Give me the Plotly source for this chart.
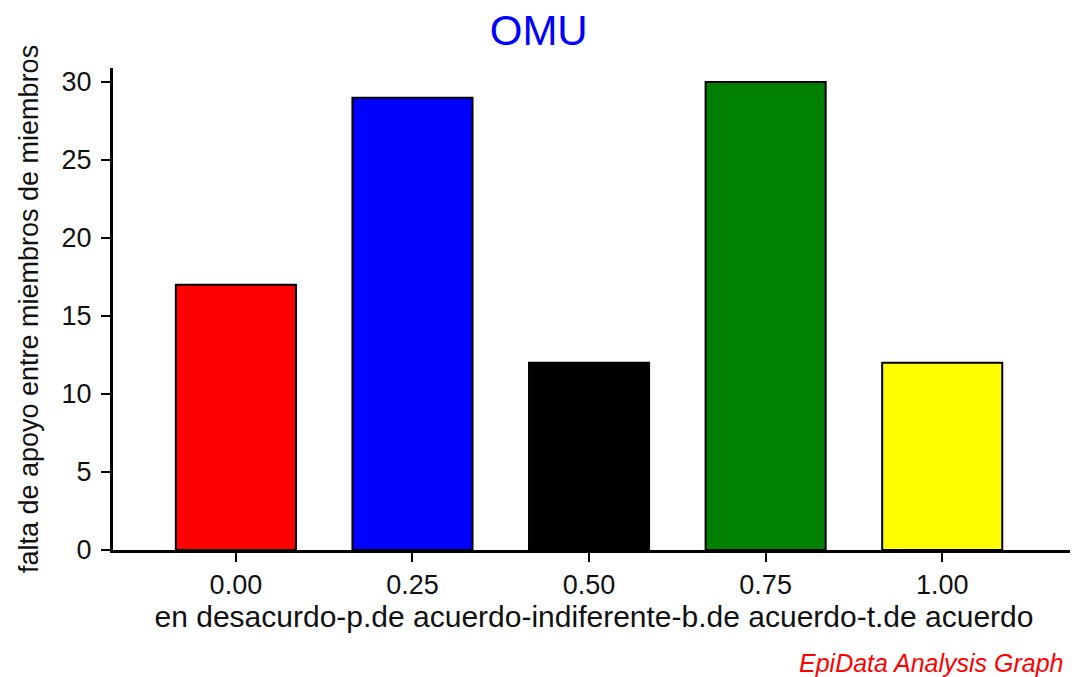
import plotly.graph_objects as go

categories = [0.00, 0.25, 0.50, 0.75, 1.00]
values = [17, 29, 12, 30, 12]
bar_colors = ["#ff0000", "#0000ff", "#000000", "#008000", "#ffff00"]
tick_text = ["0.00", "0.25", "0.50", "0.75", "1.00"]
y_ticks = [0, 5, 10, 15, 20, 25, 30]

FONT = "Arial, Liberation Sans, sans-serif"

fig = go.Figure(go.Bar(
    x=categories, y=values, width=0.17,
    marker=dict(color=bar_colors, line=dict(color="black", width=2)),
))

# The page body has an 8px default margin, so the figure is sized/positioned to compensate.
fig.update_layout(
    width=1070, height=669,
    margin=dict(l=105, r=3, t=60, b=127),
    paper_bgcolor="white", plot_bgcolor="white",
    showlegend=False,
    font=dict(family=FONT, size=27, color="#111111"),
    title=dict(text="OMU", x=0.496, xanchor="center", xref="container",
               y=0.967, yanchor="middle", yref="container",
               font=dict(family=FONT, size=42, color="#0000ff")),
    xaxis=dict(range=[-0.174, 1.188], tickvals=categories, ticktext=tick_text,
               automargin=False,
               showgrid=False, zeroline=False, showline=True, linecolor="black",
               linewidth=3, ticks="outside", ticklen=9, tickwidth=2, tickcolor="black",
               title=dict(text="en desacurdo-p.de acuerdo-indiferente-b.de acuerdo-t.de acuerdo",
                          standoff=7, font=dict(size=30))),
    yaxis=dict(range=[0, 30.9], tickvals=y_ticks, showgrid=False, zeroline=False,
               automargin=False,
               showline=True, linecolor="black", linewidth=3, ticks="outside",
               ticklen=9, tickwidth=2, tickcolor="black", ticklabelstandoff=4,
               title=dict(text="falta de apoyo entre miembros de miembros",
                          standoff=16, font=dict(size=27))),
    annotations=[dict(text="<i>EpiData Analysis Graph</i>", xref="paper", yref="paper",
                      x=1.0, y=-0.234, xanchor="right", yanchor="middle", xshift=-10,
                      showarrow=False, font=dict(family=FONT, size=25, color="#ff0000"))],
)

fig.write_html("out.html")
